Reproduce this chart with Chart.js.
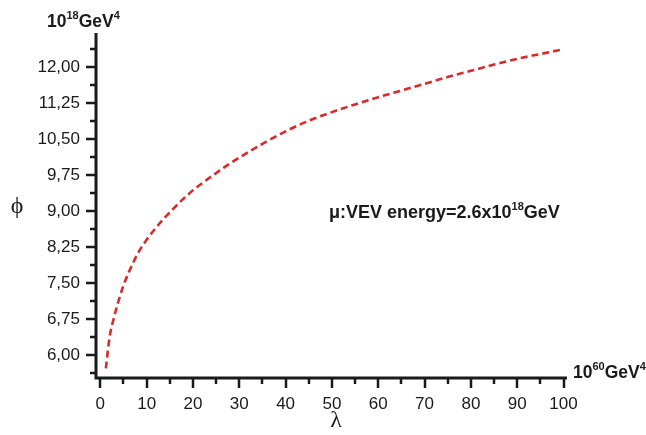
<!DOCTYPE html>
<html>
<head>
<meta charset="utf-8">
<script src="https://cdn.jsdelivr.net/npm/chart.js@4.4.0/dist/chart.umd.min.js"></script>
<style>
    html, body { margin: 0; padding: 0; background: #fff; }
    #wrap { width: 646px; height: 435px; }
</style>
</head>
<body>
<div id="wrap"><canvas id="chart" width="646" height="435"></canvas></div>
<script>
// lambda (10^60 GeV^4) and phi (10^18 GeV^4)
const lambdaValues = [1.2, 2, 3, 4, 5, 6, 7, 8, 10, 12, 14, 16, 18, 20, 22, 25, 28, 31, 35, 40,
    45, 50, 55, 60, 65, 70, 75, 80, 85, 90, 95, 100];
const phiValues = [5.72, 6.37, 6.80, 7.15, 7.45, 7.69, 7.90, 8.10, 8.40, 8.65, 8.87, 9.07, 9.26, 9.43, 9.58, 9.79, 9.99, 10.17, 10.40, 10.66,
    10.88, 11.06, 11.22, 11.37, 11.51, 11.65, 11.79, 11.92, 12.05, 12.17, 12.27, 12.37];

// axis ticks
const xMajorTicks = [0, 10, 20, 30, 40, 50, 60, 70, 80, 90, 100];
const xMinorTicks = [5, 15, 25, 35, 45, 55, 65, 75, 85, 95];
const yMajorTicks = [6.00, 6.75, 7.50, 8.25, 9.00, 9.75, 10.50, 11.25, 12.00];
const yMinorTicks = [5.625, 6.375, 7.125, 7.875, 8.625, 9.375, 10.125, 10.875, 11.625, 12.375];
const yTickLabels = ['6,00', '6,75', '7,50', '8,25', '9,00', '9,75', '10,50', '11,25', '12,00'];

const AXIS_COLOR = '#1a1a1a';
const TICK_FONT = '17px "Liberation Sans", Arial, sans-serif';

// draw text with a superscript part: parts = [[text, isSup], ...]
function drawRich(ctx, parts, x, y, size) {
    let cx = x;
    parts.forEach(([txt, sup]) => {
        ctx.font = 'bold ' + (sup ? Math.round(size * 0.6) : size) + 'px "Liberation Sans", Arial, sans-serif';
        ctx.fillText(txt, cx, sup ? y - size * 0.45 : y);
        cx += ctx.measureText(txt).width;
    });
}

const axesPlugin = {
    id: 'axesPlugin',
    afterDatasetsDraw(chart) {
        const ctx = chart.ctx;
        const area = chart.chartArea;
        const xs = chart.scales.x;
        const ys = chart.scales.y;
        ctx.save();
        ctx.strokeStyle = AXIS_COLOR;
        ctx.fillStyle = AXIS_COLOR;

        // axis lines
        ctx.lineWidth = 3;
        ctx.beginPath();
        ctx.moveTo(area.left, area.top);
        ctx.lineTo(area.left, area.bottom);
        ctx.lineTo(area.right, area.bottom);
        ctx.stroke();

        // ticks
        ctx.lineWidth = 2.5;
        ctx.beginPath();
        xMajorTicks.forEach(v => {
            const px = Math.round(xs.getPixelForValue(v));
            ctx.moveTo(px, area.bottom); ctx.lineTo(px, area.bottom + 10);
        });
        xMinorTicks.forEach(v => {
            const px = Math.round(xs.getPixelForValue(v));
            ctx.moveTo(px, area.bottom); ctx.lineTo(px, area.bottom + 6);
        });
        yMajorTicks.forEach(v => {
            const py = Math.round(ys.getPixelForValue(v));
            ctx.moveTo(area.left, py); ctx.lineTo(area.left - 10, py);
        });
        yMinorTicks.forEach(v => {
            const py = Math.round(ys.getPixelForValue(v));
            ctx.moveTo(area.left, py); ctx.lineTo(area.left - 6, py);
        });
        ctx.stroke();

        // tick labels
        ctx.font = TICK_FONT;
        ctx.textAlign = 'center';
        ctx.textBaseline = 'middle';
        xMajorTicks.forEach(v => {
            ctx.fillText(String(v), xs.getPixelForValue(v), area.bottom + 26);
        });
        ctx.textAlign = 'right';
        yMajorTicks.forEach((v, i) => {
            ctx.fillText(yTickLabels[i], area.left - 16, ys.getPixelForValue(v));
        });

        // axis titles
        ctx.textAlign = 'center';
        ctx.font = '24px "Liberation Serif", "DejaVu Serif", serif';
        ctx.fillText('\u03D5', 17, 207);
        ctx.fillText('\u03BB', 336, 421);

        // unit labels and annotation
        ctx.textAlign = 'left';
        ctx.textBaseline = 'alphabetic';
        drawRich(ctx, [['10', false], ['18', true], ['GeV', false], ['4', true]], 47, 27, 17.5);
        drawRich(ctx, [['10', false], ['60', true], ['GeV', false], ['4', true]], 573, 378, 17.5);
        drawRich(ctx, [['\u03BC:VEV energy=2.6x10', false], ['18', true], ['GeV', false]], 329, 218, 18);

        ctx.restore();
    }
};

const points = lambdaValues.map((l, i) => ({ x: l, y: phiValues[i] }));

new Chart(document.getElementById('chart'), {
    type: 'scatter',
    data: {
        datasets: [{
            data: points,
            showLine: true,
            borderColor: '#d92b2b',
            borderWidth: 2.6,
            borderDash: [7, 4],
            pointRadius: 0,
            cubicInterpolationMode: 'monotone',
            fill: false
        }]
    },
    options: {
        responsive: false,
        animation: false,
        devicePixelRatio: 1,
        layout: { padding: { left: 96, top: 33, right: 79, bottom: 57 } },
        plugins: { legend: { display: false }, tooltip: { enabled: false } },
        scales: {
            x: { type: 'linear', min: -0.93, max: 100.75, display: false },
            y: { type: 'linear', min: 5.521, max: 12.708, display: false }
        }
    },
    plugins: [axesPlugin]
});
</script>
</body>
</html>
